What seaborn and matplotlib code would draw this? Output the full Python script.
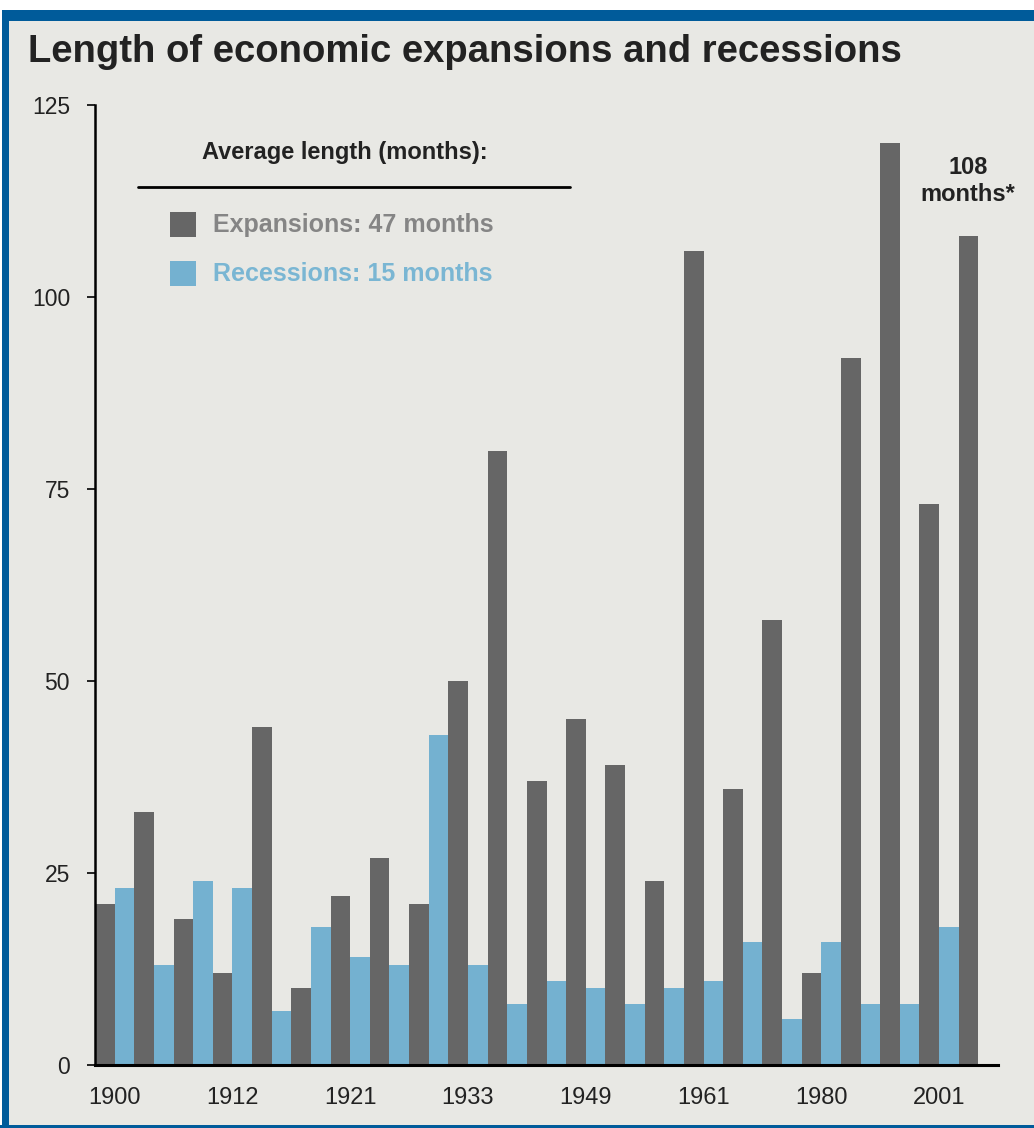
import pandas as pd
import matplotlib
matplotlib.use("Agg")
import matplotlib.pyplot as plt
from matplotlib.patches import Rectangle
import seaborn as sns

# === data (months) ===
expansions = [21, 33, 19, 12, 44, 10, 22, 27, 21, 50, 80, 37,
              45, 39, 24, 106, 36, 58, 12, 92, 120, 73, 108]
recessions = [23, 13, 24, 23, 7, 18, 14, 13, 43, 13, 8, 11,
              10, 8, 10, 11, 16, 6, 16, 8, 8, 18]
tick_pairs = [0, 3, 6, 9, 12, 15, 18, 21]
tick_labels = ["1900", "1912", "1921", "1933", "1949", "1961", "1980", "2001"]
avg_expansion = 47
avg_recession = 15

# === long form table ===
rows = []
for i, v in enumerate(expansions):
    rows.append({"pair": i, "type": "Expansion", "months": v})
for i, v in enumerate(recessions):
    rows.append({"pair": i, "type": "Recession", "months": v})
df = pd.DataFrame(rows)

dark = "#666666"
blue = "#74b1d0"
bg = "#e8e8e4"

sns.set_theme(style="white")
plt.rcParams["font.family"] = ["Liberation Sans", "DejaVu Sans"]

fig = plt.figure(figsize=(10.34, 11.28), dpi=100, facecolor="white")
W, H = 1034, 1128
# panel background + blue frame
fig.patches.append(Rectangle((2 / W, 0), 1, 1 - 10 / H, transform=fig.transFigure,
                             facecolor=bg, edgecolor="none", zorder=-3))
fig.patches.append(Rectangle((2 / W, 1 - 21 / H), 1, 11 / H, transform=fig.transFigure,
                             facecolor="#005b9a", edgecolor="none", zorder=-2))
fig.patches.append(Rectangle((2 / W, 0), 7 / W, 1 - 10 / H, transform=fig.transFigure,
                             facecolor="#005b9a", edgecolor="none", zorder=-2))
fig.patches.append(Rectangle((0, 0), 1, 3 / H, transform=fig.transFigure,
                             facecolor="#005b9a", edgecolor="none", zorder=-2))

ax = fig.add_axes([95 / W, 1 - 1065 / H, (998 - 95) / W, (1065 - 105) / H])
ax.set_facecolor("none")

sns.barplot(data=df, x="pair", y="months", hue="type",
            hue_order=["Expansion", "Recession"],
            palette={"Expansion": dark, "Recession": blue},
            width=1.0, dodge=True, saturation=1, legend=False,
            linewidth=0, ax=ax, order=list(range(len(expansions))))

ax.set_xlim(-0.5, len(expansions) - 0.5)
ax.set_ylim(0, 125)
ax.set_yticks([0, 25, 50, 75, 100, 125])
ax.set_xticks(tick_pairs)
ax.set_xticklabels(tick_labels)
ax.set_xlabel("")
ax.set_ylabel("")
for s in ["top", "right"]:
    ax.spines[s].set_visible(False)
ax.spines["left"].set_color("black")
ax.spines["left"].set_linewidth(1.8)
ax.spines["bottom"].set_color("black")
ax.spines["bottom"].set_linewidth(2.2)
ax.tick_params(axis="y", which="both", left=True, length=6, width=1.2,
               color="black", labelsize=16.5, labelcolor="#222222", pad=12)
ax.tick_params(axis="x", bottom=False, labelsize=17, labelcolor="#222222", pad=10)

# title
fig.text(28 / W, 1 - 52 / H, "Length of economic expansions and recessions",
         fontsize=27.5, fontweight="bold", color="#222222", va="center", ha="left")

# custom legend
fig.text(345 / W, 1 - 153 / H, "Average length (months):", fontsize=17,
         fontweight="bold", color="#222222", ha="center", va="center")
fig.lines.append(plt.Line2D([138 / W, 570 / W], [1 - 187 / H, 1 - 187 / H],
                            transform=fig.transFigure, color="black", lw=2))
fig.patches.append(Rectangle((170 / W, 1 - 237 / H), 26 / W, 25 / H,
                             transform=fig.transFigure, facecolor=dark, edgecolor="none"))
fig.patches.append(Rectangle((170 / W, 1 - 286 / H), 26 / W, 25 / H,
                             transform=fig.transFigure, facecolor=blue, edgecolor="none"))
fig.text(213 / W, 1 - 225 / H, f"Expansions: {avg_expansion} months", fontsize=18,
         fontweight="bold", color="#858585", ha="left", va="center")
fig.text(213 / W, 1 - 274 / H, f"Recessions: {avg_recession} months", fontsize=18,
         fontweight="bold", color="#7ab6d3", ha="left", va="center")

# current expansion note
fig.text(968 / W, 1 - 181 / H, f"{expansions[-1]}\nmonths*", fontsize=17,
         fontweight="bold", color="#222222", ha="center", va="center",
         linespacing=1.25)

fig.savefig("out.png", dpi=100, facecolor=fig.get_facecolor())
